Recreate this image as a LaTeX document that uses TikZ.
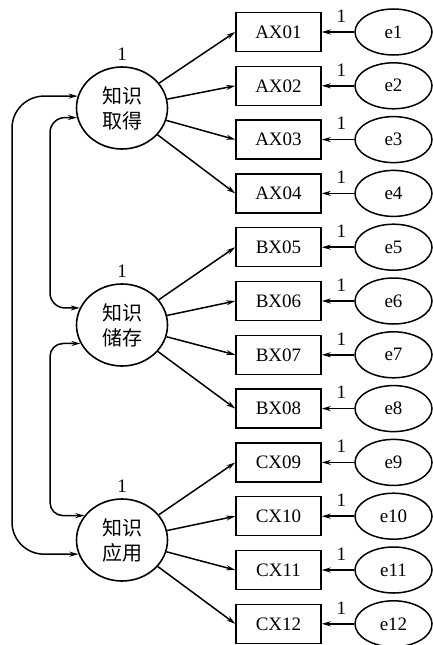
\documentclass[tikz,border=0pt]{standalone}
\usepackage{fontspec}
\setmainfont{Liberation Serif}
\newfontfamily\cjkfont{Noto Sans CJK SC}
\usetikzlibrary{arrows.meta,positioning,shapes.geometric}
\tikzset{
  obsbox/.style={
    draw,
    line width=1.5pt,
    minimum width=85pt,
    minimum height=39pt,
    inner sep=0pt,
    font=\fontsize{19}{22}\selectfont
  },
  errnode/.style={
    draw,
    ellipse,
    line width=1.5pt,
    minimum width=77pt,
    minimum height=46pt,
    inner sep=0pt,
    font=\fontsize{19}{22}\selectfont
  },
  latnode/.style={
    draw,
    ellipse,
    line width=1.6pt,
    minimum width=91pt,
    minimum height=82pt,
    inner sep=0pt,
    align=center,
    font=\cjkfont\fontsize{20}{25}\selectfont
  },
  onelabel/.style={font=\fontsize{19}{22}\selectfont, inner sep=0pt},
  loadarrow/.style={-{Stealth[length=9pt, width=5pt]}, line width=1.5pt},
  covarrow/.style={{Stealth[length=9pt, width=5pt]}-{Stealth[length=9pt, width=5pt]}, line width=1.5pt}
}
\begin{document}
\begin{tikzpicture}[x=1pt, y=1pt, node distance=13.3pt and 32.5pt]
\useasboundingbox (0,0) rectangle (433,-645);
% latent factors
\node[latnode] (lat1) at (122,-108) {知识\\取得};
\node[latnode] (lat2) at (122,-325) {知识\\储存};
\node[latnode] (lat3) at (122,-540) {知识\\应用};
\node[onelabel, above=6pt of lat1] (v1) {1};
\node[onelabel, above=6pt of lat2] (v2) {1};
\node[onelabel, above=6pt of lat3] (v3) {1};

% observed items
\node[obsbox] (AX01) at (278.5,-32) {AX01};
\node[obsbox, below=of AX01] (AX02) {AX02};
\node[obsbox, below=of AX02] (AX03) {AX03};
\node[obsbox, below=of AX03] (AX04) {AX04};
\node[obsbox, below=of AX04] (BX05) {BX05};
\node[obsbox, below=of BX05] (BX06) {BX06};
\node[obsbox, below=of BX06] (BX07) {BX07};
\node[obsbox, below=of BX07] (BX08) {BX08};
\node[obsbox, below=of BX08] (CX09) {CX09};
\node[obsbox, below=of CX09] (CX10) {CX10};
\node[obsbox, below=of CX10] (CX11) {CX11};
\node[obsbox, below=of CX11] (CX12) {CX12};

% error terms
\node[errnode, right=of AX01] (e1) {e1};
\node[errnode, right=of AX02] (e2) {e2};
\node[errnode, right=of AX03] (e3) {e3};
\node[errnode, right=of AX04] (e4) {e4};
\node[errnode, right=of BX05] (e5) {e5};
\node[errnode, right=of BX06] (e6) {e6};
\node[errnode, right=of BX07] (e7) {e7};
\node[errnode, right=of BX08] (e8) {e8};
\node[errnode, right=of CX09] (e9) {e9};
\node[errnode, right=of CX10] (e10) {e10};
\node[errnode, right=of CX11] (e11) {e11};
\node[errnode, right=of CX12] (e12) {e12};

\draw[loadarrow] (lat1) -- (AX01.west);
\draw[loadarrow] (lat1) -- (AX02.west);
\draw[loadarrow] (lat1) -- (AX03.west);
\draw[loadarrow] (lat1) -- (AX04.west);
\draw[loadarrow] (lat2) -- (BX05.west);
\draw[loadarrow] (lat2) -- (BX06.west);
\draw[loadarrow] (lat2) -- (BX07.west);
\draw[loadarrow] (lat2) -- (BX08.west);
\draw[loadarrow] (lat3) -- (CX09.west);
\draw[loadarrow] (lat3) -- (CX10.west);
\draw[loadarrow] (lat3) -- (CX11.west);
\draw[loadarrow] (lat3) -- (CX12.west);

\draw[loadarrow] (e1) -- node[onelabel, above=9pt, pos=0.4] (w1) {1} (AX01);
\draw[loadarrow] (e2) -- node[onelabel, above=9pt, pos=0.4] (w2) {1} (AX02);
\draw[loadarrow] (e3) -- node[onelabel, above=9pt, pos=0.4] (w3) {1} (AX03);
\draw[loadarrow] (e4) -- node[onelabel, above=9pt, pos=0.4] (w4) {1} (AX04);
\draw[loadarrow] (e5) -- node[onelabel, above=9pt, pos=0.4] (w5) {1} (BX05);
\draw[loadarrow] (e6) -- node[onelabel, above=9pt, pos=0.4] (w6) {1} (BX06);
\draw[loadarrow] (e7) -- node[onelabel, above=9pt, pos=0.4] (w7) {1} (BX07);
\draw[loadarrow] (e8) -- node[onelabel, above=9pt, pos=0.4] (w8) {1} (BX08);
\draw[loadarrow] (e9) -- node[onelabel, above=9pt, pos=0.4] (w9) {1} (CX09);
\draw[loadarrow] (e10) -- node[onelabel, above=9pt, pos=0.4] (w10) {1} (CX10);
\draw[loadarrow] (e11) -- node[onelabel, above=9pt, pos=0.4] (w11) {1} (CX11);
\draw[loadarrow] (e12) -- node[onelabel, above=9pt, pos=0.4] (w12) {1} (CX12);

% covariances
\coordinate (outer) at (12,-320);
\coordinate (innerA) at (50,-210);
\coordinate (innerB) at (50,-430);
\draw[covarrow, rounded corners=32pt] (lat1.165) -| (outer) |- (lat3.198);
\draw[covarrow, rounded corners=15pt] (lat1.192) -| (innerA) |- (lat2.158);
\draw[covarrow, rounded corners=13pt] (lat2.204) -| (innerB) |- (lat3.147);
\end{tikzpicture}
\end{document}
